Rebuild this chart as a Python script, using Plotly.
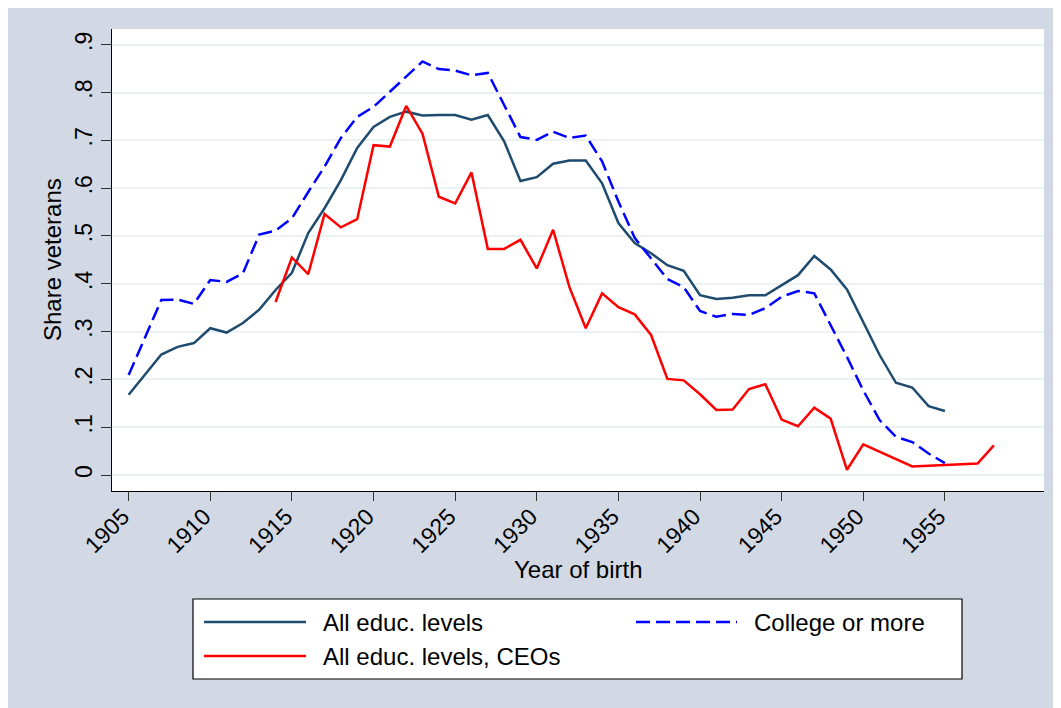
import plotly.graph_objects as go

# Share of veterans by year of birth
years_all = list(range(1905, 1956))
all_educ = [0.168, 0.210, 0.252, 0.268, 0.276, 0.307, 0.298, 0.318, 0.346, 0.387,
            0.423, 0.506, 0.558, 0.617, 0.684, 0.728, 0.749, 0.760, 0.752, 0.753,
            0.753, 0.743, 0.753, 0.698, 0.615, 0.623, 0.651, 0.658, 0.658, 0.610,
            0.527, 0.485, 0.464, 0.439, 0.427, 0.376, 0.368, 0.371, 0.376, 0.376,
            0.397, 0.418, 0.458, 0.430, 0.388, 0.321, 0.251, 0.193, 0.183, 0.144, 0.134]
college = [0.209, 0.286, 0.366, 0.367, 0.358, 0.408, 0.404, 0.422, 0.503, 0.511,
           0.537, 0.592, 0.645, 0.705, 0.749, 0.770, 0.802, 0.834, 0.865, 0.849,
           0.846, 0.836, 0.841, 0.774, 0.707, 0.701, 0.718, 0.705, 0.710, 0.656,
           0.572, 0.496, 0.453, 0.410, 0.393, 0.343, 0.331, 0.337, 0.335, 0.349,
           0.373, 0.385, 0.380, 0.314, 0.247, 0.177, 0.115, 0.080, 0.069, 0.045, 0.025]
years_ceo = list(range(1914, 1951)) + [1953, 1955, 1957, 1958]
ceos = [0.362, 0.455, 0.420, 0.546, 0.518, 0.535, 0.690, 0.687, 0.772, 0.714,
        0.582, 0.568, 0.633, 0.473, 0.473, 0.492, 0.432, 0.513, 0.393, 0.307,
        0.380, 0.351, 0.336, 0.293, 0.201, 0.198, 0.169, 0.136, 0.137, 0.180,
        0.190, 0.116, 0.102, 0.141, 0.118, 0.011, 0.064,
        0.018, 0.021, 0.024, 0.062]

x_ticks = list(range(1905, 1960, 5))
y_ticks = [0, 0.1, 0.2, 0.3, 0.4, 0.5, 0.6, 0.7, 0.8, 0.9]
y_tick_labels = ["0", ".1", ".2", ".3", ".4", ".5", ".6", ".7", ".8", ".9"]

NAVY = "#1f4b6e"
BLUE = "#0000ff"
RED = "#ff0000"
BG = "#d2d9e4"
FONT = "Liberation Sans, Arial, sans-serif"

# page offset of the figure (body margin) and plot area in page pixels
OFF = 8
W, H = 1061, 708
PL, PR, PT, PB = 112, 1044, 29, 491


def px(x):
    return (x - PL) / (PR - PL)


def py(y):
    return (PB - y) / (PB - PT)


fig = go.Figure()
fig.add_trace(go.Scatter(x=years_all, y=all_educ, mode="lines", name="All educ. levels",
                         line=dict(color=NAVY, width=2.5)))
fig.add_trace(go.Scatter(x=years_all, y=college, mode="lines", name="College or more",
                         line=dict(color=BLUE, width=2.5, dash="14px,6px")))
fig.add_trace(go.Scatter(x=years_ceo, y=ceos, mode="lines", name="All educ. levels, CEOs",
                         line=dict(color=RED, width=2.5)))

shapes = [
    # legend box
    dict(type="rect", xref="paper", yref="paper", x0=px(193), x1=px(962), y0=py(679), y1=py(599),
         fillcolor="white", line=dict(color="black", width=1.2)),
    dict(type="line", xref="paper", yref="paper", x0=px(204), x1=px(306), y0=py(622), y1=py(622),
         line=dict(color=NAVY, width=2.5)),
    dict(type="line", xref="paper", yref="paper", x0=px(204), x1=px(306), y0=py(656), y1=py(656),
         line=dict(color=RED, width=2.5)),
    dict(type="line", xref="paper", yref="paper", x0=px(636), x1=px(737), y0=py(622), y1=py(622),
         line=dict(color=BLUE, width=2.5, dash="14px,6px")),
]

annotations = [
    dict(text="All educ. levels", x=px(321), y=py(622)),
    dict(text="All educ. levels, CEOs", x=px(321), y=py(656)),
    dict(text="College or more", x=px(752), y=py(622)),
]
for a in annotations:
    a.update(xref="paper", yref="paper", xanchor="left", yanchor="middle", showarrow=False,
             font=dict(size=24, color="black", family=FONT))

annotations.append(dict(text="Year of birth", x=px(578), y=py(569), xref="paper", yref="paper",
                        xanchor="center", yanchor="middle", showarrow=False,
                        font=dict(size=24, color="black", family=FONT)))
annotations.append(dict(text="Share veterans", x=px(52), y=py(260), xref="paper", yref="paper",
                        xanchor="center", yanchor="middle", showarrow=False, textangle=-90,
                        font=dict(size=24, color="black", family=FONT)))

fig.update_layout(
    width=W,
    height=H,
    margin=dict(l=PL - OFF, r=W - PR + OFF, t=PT - OFF, b=H - PB + OFF),
    paper_bgcolor=BG,
    plot_bgcolor="white",
    showlegend=False,
    shapes=shapes,
    annotations=annotations,
    font=dict(family=FONT, color="black"),
    xaxis=dict(
        range=[1903.98, 1961.07],
        tickvals=x_ticks,
        tickangle=-45,
        tickfont=dict(size=23),
        ticks="outside",
        ticklen=9,
        tickwidth=1.2,
        tickcolor="#333333",
        ticklabelstandoff=-7,
        ticklabelshift=-6,
        showline=True,
        linecolor="black",
        linewidth=1.2,
        showgrid=False,
        zeroline=False,
    ),
    yaxis=dict(
        range=[-0.0334, 0.9329],
        tickvals=y_ticks,
        ticktext=y_tick_labels,
        tickangle=-90,
        tickfont=dict(size=23),
        ticks="outside",
        ticklen=10,
        tickwidth=1.2,
        tickcolor="#333333",
        showline=True,
        linecolor="black",
        linewidth=1.2,
        showgrid=True,
        gridcolor="#eaf2f3",
        gridwidth=2,
        zeroline=False,
    ),
)

fig.write_html("out.html")
